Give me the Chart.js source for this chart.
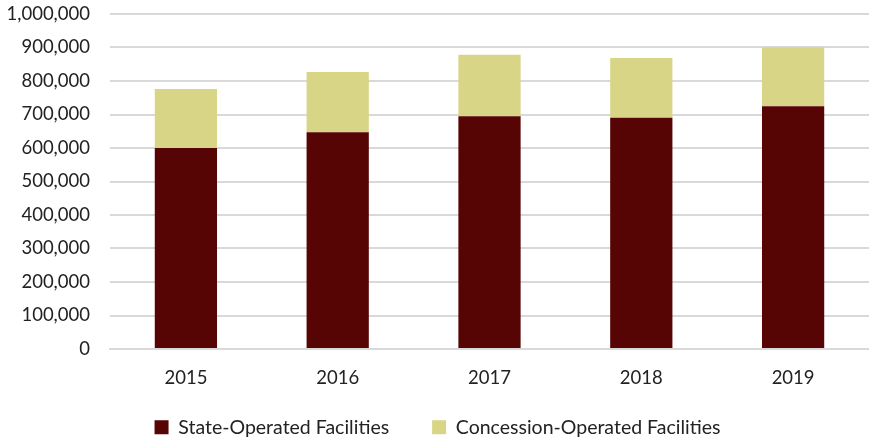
<!DOCTYPE html>
<html>
<head>
<meta charset="utf-8">
<script src="https://cdn.jsdelivr.net/npm/chart.js@4"></script>
<style>
  html, body { margin: 0; padding: 0; background: #fff; }
  #wrap { width: 869px; height: 440px; }
</style>
</head>
<body>
<div id="wrap"><canvas id="facilityChart"></canvas></div>
<script>
// ===== Data =====
const years = ["2015", "2016", "2017", "2018", "2019"];
const stateOperated = [600000, 647000, 695000, 690000, 725000];
const concessionOperated = [176000, 180000, 183000, 179000, 176000];

const font = "Lato, 'Open Sans', sans-serif";

new Chart(document.getElementById("facilityChart"), {
    type: "bar",
    data: {
        labels: years,
        datasets: [{
            label: "State-Operated Facilities",
            data: stateOperated,
            backgroundColor: "#560404"
        }, {
            label: "Concession-Operated Facilities",
            data: concessionOperated,
            backgroundColor: "#d9d586"
        }]
    },
    options: {
        responsive: true,
        maintainAspectRatio: false,
        animation: false,
        layout: { padding: { top: 0, right: 0, left: 6, bottom: -7 } },
        datasets: { bar: { categoryPercentage: 1, barPercentage: 0.41 } },
        scales: {
            x: {
                stacked: true,
                grid: { display: false },
                border: { color: "#d9d9d9", width: 2 },
                ticks: { color: "#222", padding: 12, font: { family: font, size: 18.5, lineHeight: 1 } }
            },
            y: {
                stacked: true,
                min: 0,
                max: 1000000,
                grid: { color: "#d9d9d9", lineWidth: 2, drawTicks: false },
                border: { display: false },
                ticks: {
                    stepSize: 100000,
                    color: "#222",
                    padding: 20,
                    font: { family: font, size: 18.5, lineHeight: 1 },
                    callback: v => v.toLocaleString("en-US")
                },
                // fixed axis width, and keep the top of the plot close to the canvas edge
                afterFit: scale => {
                    scale.width = 104;
                    scale.paddingTop = 14;
                    scale.paddingBottom = 10;
                }
            }
        },
        plugins: {
            legend: {
                position: "bottom",
                labels: {
                    color: "#222",
                    boxWidth: 14,
                    boxHeight: 14,
                    padding: 18,
                    font: { family: font, size: 19.5 },
                    generateLabels: chart => Chart.defaults.plugins.legend.labels.generateLabels(chart)
                        .map((item, i) => i === 0 ? { ...item, text: item.text + "     " } : item)
                }
            },
            tooltip: { enabled: false }
        }
    }
});
</script>
</body>
</html>
